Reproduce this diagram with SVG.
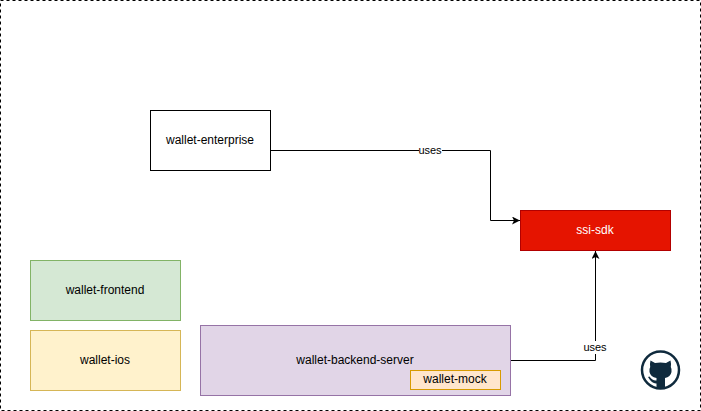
<svg xmlns="http://www.w3.org/2000/svg" width="701" height="411" viewBox="0 0 701 411">
<style>
text{font-family:"Liberation Sans",Arial,sans-serif;font-size:12px;fill:#000;text-anchor:middle}
.l{font-size:11px}
.e{fill:none;stroke:#000;stroke-width:1}
</style>
<defs><marker id="a" markerUnits="userSpaceOnUse" markerWidth="10" markerHeight="10" refX="8" refY="4" orient="auto"><path d="M0 0L8 4L0 8L2 4Z" fill="#000"/></marker></defs>
<rect width="701" height="411" fill="#fff"/>
<rect id="frame" x="0.5" y="0.5" width="700" height="410" fill="none" stroke="#000" stroke-dasharray="3 3"/>
<g id="connectors">
<path class="e" d="M270.500 150.500H490.500V220.500H520" marker-end="url(#a)"/>
<path class="e" d="M510.500 360.500H595.500V251" marker-end="url(#a)"/>
<rect x="419" y="144" width="23" height="13" fill="#fff"/>
<text class="l" x="430" y="154">uses</text>
<rect x="584" y="341" width="23" height="13" fill="#fff"/>
<text class="l" x="595" y="351">uses</text>
</g>
<g id="wallet-enterprise"><rect x="150.500" y="110.500" width="120" height="60" fill="#fff" stroke="#000"/><text x="210" y="144">wallet-enterprise</text></g>
<g id="ssi-sdk"><rect x="520.500" y="210.500" width="150" height="40" fill="#e51400" stroke="#b20000"/><text x="595" y="234" style="fill:#fff">ssi-sdk</text></g>
<g id="wallet-frontend"><rect x="30.500" y="260.500" width="150" height="60" fill="#d5e8d4" stroke="#82b366"/><text x="105" y="294">wallet-frontend</text></g>
<g id="wallet-ios"><rect x="30.500" y="330.500" width="150" height="60" fill="#fff2cc" stroke="#d6b656"/><text x="105" y="364">wallet-ios</text></g>
<g id="wallet-backend-server"><rect x="200.500" y="325.500" width="310" height="70" fill="#e1d5e7" stroke="#9673a6"/><text x="355" y="364">wallet-backend-server</text></g>
<g id="wallet-mock"><rect x="410.500" y="370.500" width="90" height="19" fill="#ffe6cc" stroke="#d79b00"/><text x="455" y="383">wallet-mock</text></g>
<g id="github">
<circle cx="660.500" cy="370" r="18.500" fill="none" stroke="#0f2a3d" stroke-width="2.500"/>
<path fill="#0f2a3d" d="M650.500 360.500L655 363Q660.500 362 666 363L670.500 360.500Q671.500 364.500 670.800 367Q672 369 671.500 372Q670.500 377 665 378V389H656.500V383.500Q652 384 648 377L649.500 376.500Q652.500 381 656.500 380.500V378Q650.500 377 649.500 372Q649 369 650.200 367Q649.500 364.500 650.500 360.500Z"/>
</g>
</svg>
